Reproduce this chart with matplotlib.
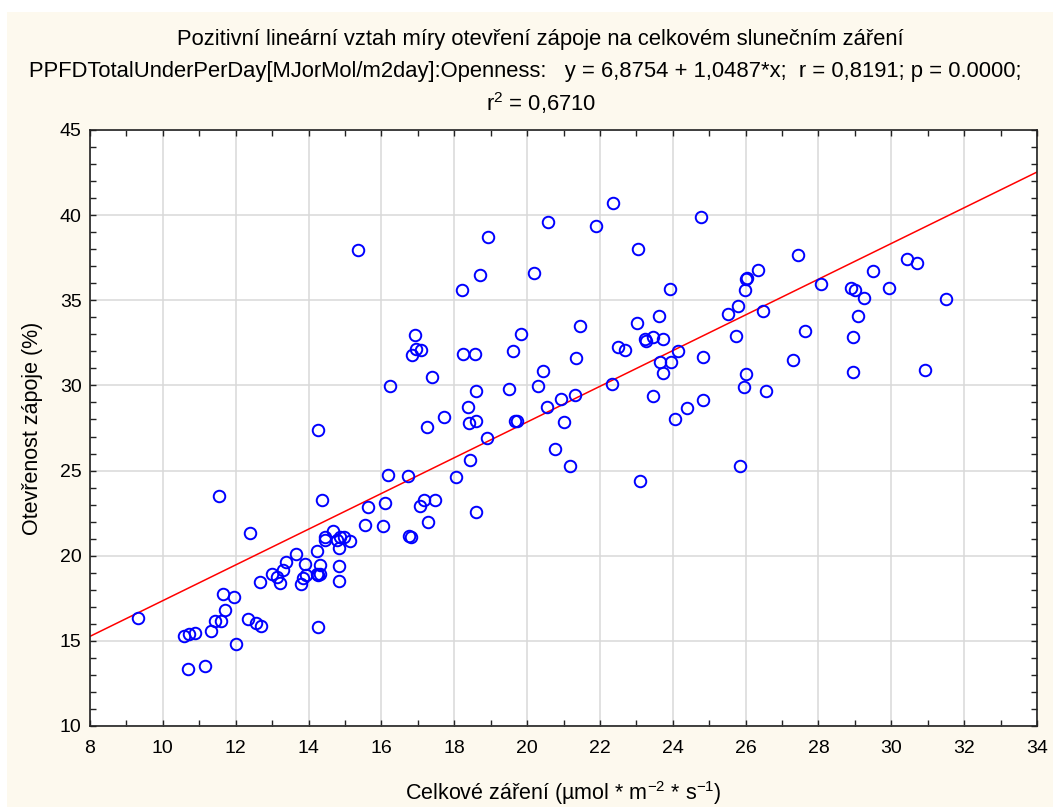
import numpy as np
import matplotlib.pyplot as plt
from matplotlib.ticker import MultipleLocator
from matplotlib.patches import Rectangle

plt.rcParams['font.family'] = ['Liberation Sans', 'DejaVu Sans']
plt.rcParams['mathtext.fontset'] = 'custom'
plt.rcParams['mathtext.rm'] = 'Liberation Sans'
plt.rcParams['mathtext.default'] = 'regular'

# Celkove zareni (x) a otevrenost zapoje (y)
zareni = [9.33, 10.58, 10.72, 10.87, 10.68, 11.16, 11.32, 11.43, 11.59, 11.71,
          11.66, 11.95, 12.01, 12.35, 12.55, 12.70, 12.40, 11.55, 12.68, 13.00,
          13.13, 13.22, 13.29, 13.38, 13.65, 13.79, 13.86, 13.91, 13.93, 14.23,
          14.26, 14.32, 14.32, 14.24, 14.25, 14.27, 14.36, 14.44, 14.44, 14.68,
          14.78, 14.85, 14.85, 14.85, 14.87, 14.98, 15.14, 15.55, 15.62, 15.36,
          16.05, 16.11, 16.19, 16.25, 16.74, 16.75, 16.80, 16.85, 16.91, 16.95,
          17.10, 17.06, 17.17, 17.27, 17.26, 17.40, 17.48, 17.73, 18.06, 18.22,
          18.25, 18.37, 18.41, 18.42, 18.57, 18.60, 18.61, 18.61, 18.70, 18.90,
          18.92, 19.49, 19.62, 19.66, 19.72, 19.83, 20.18, 20.30, 20.43, 20.56,
          20.57, 20.77, 20.92, 21.01, 21.17, 21.32, 21.34, 21.46, 21.88, 22.33,
          22.36, 22.51, 22.70, 23.03, 23.04, 23.10, 23.25, 23.27, 23.45, 23.47,
          23.63, 23.66, 23.72, 23.74, 23.93, 23.95, 24.06, 24.15, 24.38, 24.77,
          24.83, 24.83, 25.52, 25.73, 25.79, 25.84, 25.96, 25.98, 26.00, 26.01,
          26.04, 26.35, 26.49, 26.57, 27.29, 27.43, 27.64, 28.06, 28.90, 28.99,
          28.96, 28.96, 29.08, 29.26, 29.49, 29.94, 30.43, 30.71, 30.93, 31.49]
otevrenost = [16.35, 15.31, 15.39, 15.49, 13.33, 13.53, 15.59, 16.14, 16.14, 16.84,
              17.76, 17.57, 14.81, 16.28, 16.02, 15.85, 21.35, 23.53, 18.47, 18.94,
              18.75, 18.40, 19.18, 19.63, 20.08, 18.35, 18.72, 19.50, 18.86, 18.92,
              18.85, 18.92, 19.43, 20.29, 15.83, 27.39, 23.30, 21.10, 20.90, 21.47,
              20.90, 20.43, 19.39, 18.51, 21.08, 21.08, 20.84, 21.80, 22.88, 37.94,
              21.76, 23.12, 24.76, 29.98, 24.69, 21.15, 21.10, 31.76, 32.94, 32.16,
              32.06, 22.94, 23.28, 21.98, 27.55, 30.51, 23.25, 28.12, 24.63, 35.63,
              31.82, 28.72, 27.80, 25.63, 31.84, 29.66, 27.90, 22.59, 36.49, 26.90,
              38.73, 29.78, 32.04, 27.90, 27.90, 33.02, 36.60, 29.98, 30.84, 28.76,
              39.60, 26.27, 29.20, 27.86, 25.29, 29.41, 31.60, 33.51, 39.39, 30.06,
              40.69, 32.26, 32.06, 33.69, 38.02, 24.36, 32.75, 32.61, 32.84, 29.37,
              34.08, 31.39, 30.75, 32.75, 35.66, 31.39, 28.02, 32.00, 28.65, 39.88,
              31.67, 29.16, 34.20, 32.90, 34.65, 25.25, 29.90, 35.59, 30.67, 36.24,
              36.28, 36.76, 34.35, 29.70, 31.47, 37.65, 33.20, 35.94, 35.75, 35.63,
              32.86, 30.80, 34.08, 35.15, 36.73, 35.71, 37.45, 37.20, 30.93, 35.06]

# regresni primka
intercept = 6.8754
slope = 1.0487
x_range = [8, 34]

title1 = 'Pozitivní lineární vztah míry otevření zápoje na celkovém slunečním záření'
title2 = ('PPFDTotalUnderPerDay[MJorMol/m2day]:Openness:   y = 6,8754 + 1,0487*x;  '
          'r = 0,8191; p = 0.0000;')
title3 = 'r$^2$ = 0,6710'

fig = plt.figure(figsize=(10.53, 8.07), dpi=100, facecolor='white')
fig.patches.append(Rectangle((7 / 1053, 0), 1, 1 - 12 / 807, transform=fig.transFigure,
                             facecolor='#fdf9ee', edgecolor='none', zorder=-10))

ax = fig.add_axes([90 / 1053, 1 - 726 / 807, (1037 - 90) / 1053, (726 - 130) / 807])
ax.set_facecolor('white')

xl = np.array(x_range, dtype=float)
ax.plot(xl, intercept + slope * xl, color='red', lw=1.1, zorder=2)
ax.plot(zareni, otevrenost, 'o', mfc='none', mec='#0000ff', ms=8.3, mew=1.4, zorder=3)

ax.set_xlim(8, 34)
ax.set_ylim(10, 45)
ax.xaxis.set_major_locator(MultipleLocator(2))
ax.xaxis.set_minor_locator(MultipleLocator(1))
ax.yaxis.set_major_locator(MultipleLocator(5))
ax.yaxis.set_minor_locator(MultipleLocator(1))
ax.grid(True, which='major', color='#d9d9d9', lw=1.1, zorder=0)
ax.set_axisbelow(True)
ax.tick_params(which='both', direction='in', top=True, right=True, labelsize=14,
               colors='#222222', labelcolor='black')
ax.tick_params(which='major', length=4, width=1)
ax.tick_params(which='minor', length=4, width=1)
ax.tick_params(axis='x', pad=10)
ax.tick_params(axis='y', pad=6)
for s in ax.spines.values():
    s.set_color('#222222')
    s.set_linewidth(1.2)

ax.set_xlabel('Celkové záření (µmol * m$^{-2}$ * s$^{-1}$)', fontsize=15.5, labelpad=16)
ax.set_ylabel('Otevřenost zápoje (%)', fontsize=15.5, labelpad=12)

fig.text(540 / 1053, 1 - 40 / 807, title1, ha='center', va='center', fontsize=15.8)
fig.text(525 / 1053, 1 - 72 / 807, title2, ha='center', va='center', fontsize=15.8)
fig.text(541 / 1053, 1 - 103 / 807, title3, ha='center', va='center', fontsize=15.8)

fig.savefig('out.png', dpi=100, facecolor=fig.get_facecolor())
